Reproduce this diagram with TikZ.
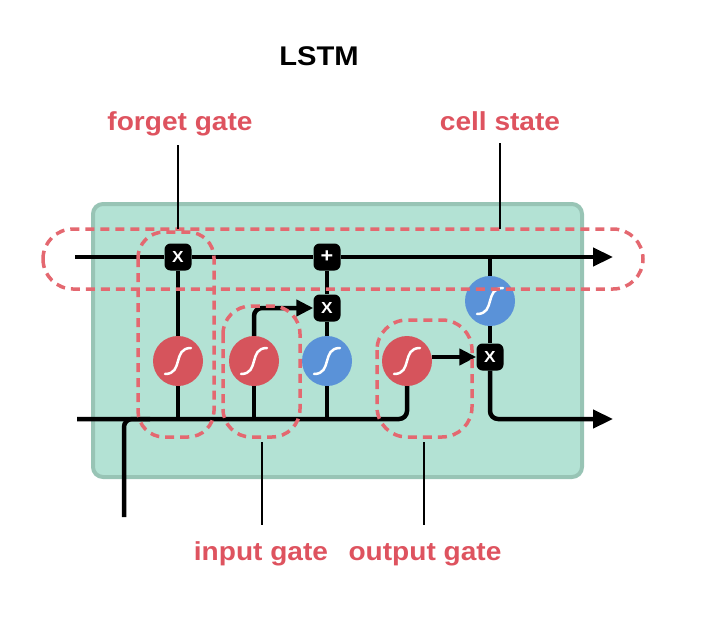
\documentclass[tikz,border=0pt]{standalone}
\usepackage{fontspec}
\setmainfont[FakeStretch=1.08]{Liberation Sans}
\usetikzlibrary{arrows.meta}
\definecolor{cellgreen}{RGB}{179,226,212}
\definecolor{cellborder}{RGB}{152,196,181}
\definecolor{gatered}{RGB}{214,84,92}
\definecolor{gateblue}{RGB}{90,146,216}
\definecolor{labelred}{RGB}{222,83,95}
\definecolor{dashred}{RGB}{228,104,112}
\tikzset{
  wire/.style={line width=4.5pt, black},
  thin/.style={line width=1.4pt, black},
  sig/.style={circle, minimum size=50pt, inner sep=0pt, draw=none},
  opbox/.style={rounded corners=6pt, fill=black, minimum size=27pt, inner sep=0pt, text=white, font=\fontsize{16}{16}\selectfont\bfseries},
  gatelabel/.style={text=labelred, font=\fontsize{26}{30}\selectfont\bfseries, anchor=base, inner sep=0pt},
  dashbox/.style={draw=dashred, line width=3.5pt, dash pattern=on 9pt off 6pt},
  tip/.style={-{Triangle[length=20pt,width=18pt]}},
  smalltip/.style={-{Triangle[length=17pt,width=16pt]}},
  scurve/.style={white, line width=2.5pt, line cap=round}
}
\begin{document}
\begin{tikzpicture}[x=1pt,y=-1pt]
\useasboundingbox (0,0) rectangle (704,626);
% cell body
\node[draw=cellborder, fill=cellgreen, line width=4pt, rounded corners=10pt, minimum width=489pt, minimum height=273pt, inner sep=0pt] (cell) at (337.5,340.5) {};

% coordinates
\coordinate (cin) at (75,257);
\coordinate (cout) at (613,257);
\coordinate (hin) at (77,419);
\coordinate (xin) at (124,517);
\coordinate (hout) at (613,419);

% operation boxes
\node[opbox] (fx) at (178,257) {X};
\node[opbox, font=\fontsize{20}{20}\selectfont\bfseries] (plus) at (327,257) {+};
\node[opbox] (ix) at (327,308) {X};
\node[opbox] (ox) at (490,357) {X};

% gate circles
\node[sig, fill=gatered] (fsig) at (178,361) {};
\node[sig, fill=gatered] (isig) at (254,361) {};
\node[sig, fill=gateblue] (tanhA) at (327,361) {};
\node[sig, fill=gatered] (osig) at (407,361) {};
\node[sig, fill=gateblue] (tanhB) at (490,301) {};

% sigmoid symbols
\foreach \n in {fsig,isig,tanhA,osig,tanhB}{
  \draw[scurve] ([shift={(-13,13)}]\n.center) .. controls ([shift={(6,13)}]\n.center) and ([shift={(-6,-13)}]\n.center) .. ([shift={(13,-13)}]\n.center);
}

% cell state line
\draw[wire] (cin) -- (fx.west);
\draw[wire] (fx.east) -- (plus.west);
\draw[wire, tip] (plus.east) -- (cout);

% bottom input line
\coordinate (bOut) at (407,419);
\draw[wire, rounded corners=8pt] (hin) -- (bOut) -- (osig.south);
\draw[wire, rounded corners=8pt] (xin) -- (124,419) -- (150,419);

% forget gate
\draw[wire] (fsig.north) -- (fx.south);
\draw[wire] (fsig.south) -- (fsig.south |- hin);
% input gate
\draw[wire] (isig.south) -- (isig.south |- hin);
\draw[wire, smalltip, rounded corners=8pt] (isig.north) -- (isig.north |- ix.west) -- (ix.west);
% tanh candidate
\draw[wire] (tanhA.south) -- (tanhA.south |- hin);
\draw[wire] (tanhA.north) -- (ix.south);
\draw[wire] (ix.north) -- (plus.south);
% output gate
\draw[wire, smalltip] (osig.east |- ox.west) -- (ox.west);
\draw[wire] (tanhB.north |- cin) -- (tanhB.north);
\draw[wire] (tanhB.south) -- (ox.north);
\draw[wire, tip, rounded corners=8pt] (ox.south) -- (ox.south |- hout) -- (hout);

% dashed highlight regions
\draw[dashbox, rounded corners=30pt] (43,229) rectangle (643,289);
\draw[dashbox, rounded corners=26pt] (138,232) rectangle (214,437);
\draw[dashbox, rounded corners=28pt] (223,306) rectangle (300,437);
\draw[dashbox, rounded corners=30pt] (377,320) rectangle (472,437);

% labels
\node[anchor=base, inner sep=0pt, font=\fontsize{27}{30}\selectfont\bfseries] (title) at (319,66) {LSTM};
\node[gatelabel] (lforget) at (180,130) {forget gate};
\node[gatelabel] (lcell) at (500,130) {cell state};
\node[gatelabel] (linput) at (261,560) {input gate};
\node[gatelabel] (loutput) at (425,560) {output gate};

\coordinate (pforgetA) at (178,145);
\coordinate (pforgetB) at (178,229);
\coordinate (pcellA) at (500,143);
\coordinate (pcellB) at (500,229);
\coordinate (pinputA) at (262,442);
\coordinate (pinputB) at (262,525);
\coordinate (poutputA) at (424,442);
\coordinate (poutputB) at (424,525);
\draw[thin] (pforgetA) -- (pforgetB);
\draw[thin] (pcellA) -- (pcellB);
\draw[thin] (pinputA) -- (pinputB);
\draw[thin] (poutputA) -- (poutputB);
\end{tikzpicture}
\end{document}
